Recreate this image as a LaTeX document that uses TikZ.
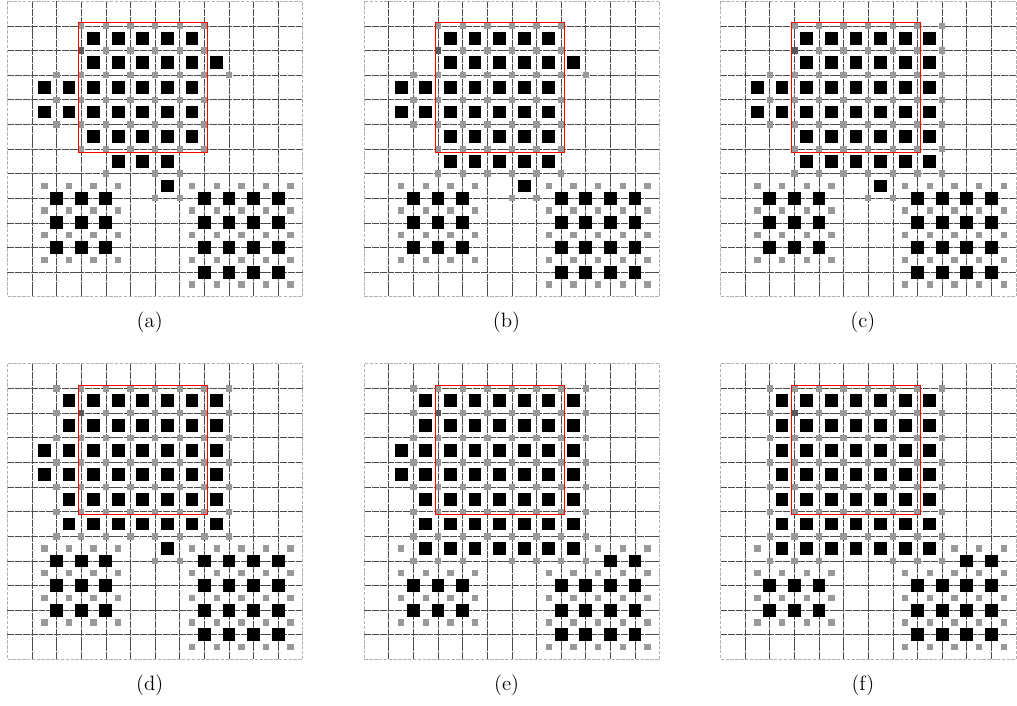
\documentclass[tikz,border=0pt]{standalone}
\usepackage{xcolor}
\usepackage{tikz}
\tikzset{
  gridline/.style={black!70, line width=0.4pt, dash pattern=on 4pt off 0.5pt},
  gridframe/.style={black!30, line width=0.6pt, dash pattern=on 2pt off 0.8pt},
  blacksite/.style={fill=black},
  graysite/.style={fill=black!40},
  darksite/.style={fill=black!65},
  redbox/.style={draw=red, line width=0.5pt},
  sublabel/.style={font=\fontsize{12}{14}\selectfont},
}
% 12x12 lattice of one panel
\newcommand{\lattice}{%
  \foreach \k in {1,...,11} {
    \draw[gridline] (\k,0) -- (\k,-12);
    \draw[gridline] (0,-\k) -- (12,-\k);
  }
  \draw[gridframe] (0,0) rectangle (12,-12);
}
% black site in cells: row, first col, last col
\newcommand{\brow}[3]{\foreach \col in {#2,...,#3} {\fill[blacksite] (\col+0.24,-#1-0.76) rectangle ++(0.52,0.52);}}
% black site on vertices: row, first, last
\newcommand{\bvrow}[3]{\foreach \vx in {#2,...,#3} {\fill[blacksite] (\vx-0.26,-#1-0.26) rectangle ++(0.52,0.52);}}
% gray site on vertices
\newcommand{\gvrow}[3]{\foreach \vx in {#2,...,#3} {\fill[graysite] (\vx-0.13,-#1-0.13) rectangle ++(0.26,0.26);}}
% gray site in cells
\newcommand{\gcrow}[3]{\foreach \col in {#2,...,#3} {\fill[graysite] (\col+0.37,-#1-0.63) rectangle ++(0.26,0.26);}}
% marked site and window
\newcommand{\window}{%
  \fill[darksite] (2.87,-2.13) rectangle ++(0.26,0.26);
  \draw[redbox] (2.88,-0.88) rectangle (8.12,-6.12);
}
% lower clusters, full
\newcommand{\lowfull}{%
  \gcrow{7}{1}{4} \gcrow{8}{1}{4} \gcrow{9}{1}{4} \gcrow{10}{1}{4}
  \bvrow{8}{2}{4} \bvrow{9}{2}{4} \bvrow{10}{2}{4}
  \gcrow{7}{7}{11} \gcrow{8}{7}{11} \gcrow{9}{7}{11} \gcrow{10}{7}{11} \gcrow{11}{7}{11}
  \bvrow{8}{8}{11} \bvrow{9}{8}{11} \bvrow{10}{8}{11} \bvrow{11}{8}{11}
}
% lower clusters, after the merge
\newcommand{\lowcut}{%
  \gcrow{7}{1}{1} \gcrow{8}{1}{4} \gcrow{9}{1}{4} \gcrow{10}{1}{4}
  \bvrow{9}{2}{4} \bvrow{10}{2}{4}
  \gcrow{7}{9}{11} \gcrow{8}{7}{11} \gcrow{9}{7}{11} \gcrow{10}{7}{11} \gcrow{11}{7}{11}
  \bvrow{8}{10}{11} \bvrow{9}{8}{11} \bvrow{10}{8}{11} \bvrow{11}{8}{11}
}

\begin{document}
\begin{tikzpicture}[x=0.5cm, y=0.5cm]
  \useasboundingbox (-0.3,0.05) rectangle (41.0,-28.58);

  % (a)
  \begin{scope}[shift={(0,0)}]
    \lattice
    \gvrow{1}{3}{8} \gvrow{2}{3}{8} \gvrow{3}{2}{9} \gvrow{4}{2}{8}
    \gvrow{5}{2}{8} \gvrow{6}{3}{8} \gvrow{7}{4}{4} \gvrow{7}{6}{7} \gvrow{8}{6}{7}
    \brow{1}{3}{7} \brow{2}{3}{8} \brow{3}{1}{7} \brow{4}{1}{7}
    \brow{5}{3}{7} \brow{6}{4}{6} \brow{7}{6}{6}
    \lowfull
    \window
    \node[sublabel] (la) at (5.78,-13.04) {(a)};
  \end{scope}

  % (b)
  \begin{scope}[shift={(14.49,0)}]
    \lattice
    \gvrow{1}{3}{8} \gvrow{2}{3}{8} \gvrow{3}{2}{9} \gvrow{4}{2}{8}
    \gvrow{5}{2}{8} \gvrow{6}{3}{8} \gvrow{7}{3}{8} \gvrow{8}{6}{7}
    \brow{1}{3}{7} \brow{2}{3}{8} \brow{3}{1}{7} \brow{4}{1}{7}
    \brow{5}{3}{7} \brow{6}{3}{7} \brow{7}{6}{6}
    \lowfull
    \window
    \node[sublabel] (lb) at (5.78,-13.04) {(b)};
  \end{scope}

  % (c)
  \begin{scope}[shift={(28.96,0)}]
    \lattice
    \gvrow{1}{3}{9} \gvrow{2}{3}{9} \gvrow{3}{2}{9} \gvrow{4}{2}{9}
    \gvrow{5}{2}{9} \gvrow{6}{3}{9} \gvrow{7}{3}{9} \gvrow{8}{6}{7}
    \brow{1}{3}{8} \brow{2}{3}{8} \brow{3}{1}{8} \brow{4}{1}{8}
    \brow{5}{3}{8} \brow{6}{3}{8} \brow{7}{6}{6}
    \lowfull
    \window
    \node[sublabel] (lc) at (5.78,-13.04) {(c)};
  \end{scope}

  % (d)
  \begin{scope}[shift={(0,-14.73)}]
    \lattice
    \foreach \rw in {1,...,7} {\gvrow{\rw}{2}{9}}
    \gvrow{8}{6}{7}
    \brow{1}{2}{8} \brow{2}{2}{8} \brow{3}{1}{8} \brow{4}{1}{8}
    \brow{5}{2}{8} \brow{6}{2}{8} \brow{7}{6}{6}
    \lowfull
    \window
    \node[sublabel] (ld) at (5.78,-13.04) {(d)};
  \end{scope}

  % (e)
  \begin{scope}[shift={(14.49,-14.73)}]
    \lattice
    \foreach \rw in {1,...,7} {\gvrow{\rw}{2}{9}}
    \gvrow{8}{2}{4} \gvrow{8}{6}{9}
    \brow{1}{2}{8} \brow{2}{2}{8} \brow{3}{1}{8} \brow{4}{1}{8}
    \brow{5}{2}{8} \brow{6}{2}{8} \brow{7}{2}{8}
    \lowcut
    \window
    \node[sublabel] (le) at (5.78,-13.04) {(e)};
  \end{scope}

  % (f)
  \begin{scope}[shift={(28.96,-14.73)}]
    \lattice
    \foreach \rw in {1,...,7} {\gvrow{\rw}{2}{9}}
    \gvrow{8}{2}{4} \gvrow{8}{7}{9}
    \foreach \rw in {1,...,7} {\brow{\rw}{2}{8}}
    \lowcut
    \window
    \node[sublabel] (lf) at (5.78,-13.04) {(f)};
  \end{scope}
\end{tikzpicture}
\end{document}
